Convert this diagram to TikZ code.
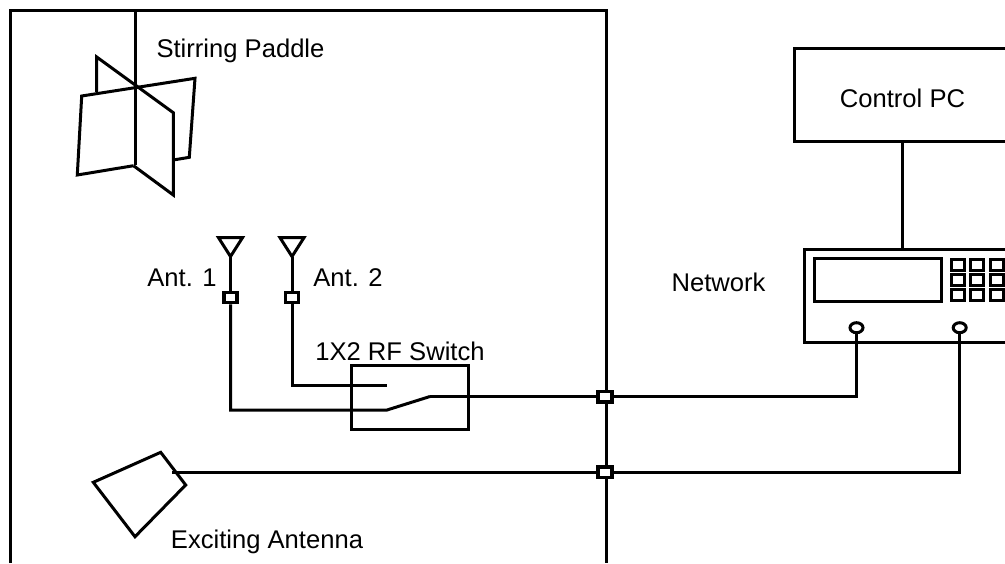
\documentclass[tikz,border=0pt]{standalone}
\usepackage{fontspec}
\setmainfont{Liberation Sans}
\usetikzlibrary{positioning,shapes.geometric}
\tikzset{
  wire/.style={line width=3pt, line join=miter},
  box/.style={draw, line width=3pt, rectangle, anchor=north west, inner sep=0pt, outer sep=0pt},
  port/.style={draw, line width=3.5pt, fill=white, rectangle, inner sep=0pt, minimum width=13pt, minimum height=10pt},
  wallport/.style={port, minimum width=14pt, minimum height=10.5pt},
  jack/.style={draw, line width=3pt, fill=white, ellipse, inner sep=0pt, minimum width=13pt, minimum height=10pt},
  keybox/.style={draw, line width=3pt, rectangle, inner sep=0pt, minimum width=13pt, minimum height=11.5pt},
  aerial/.style={draw, line width=3pt, isosceles triangle, shape border rotate=-90, isosceles triangle apex angle=65, inner sep=0pt, outer sep=0pt, minimum height=18pt, minimum width=24pt, anchor=apex},
  label/.style={font=\fontsize{25.6}{28}\selectfont, inner sep=0pt}
}
\begin{document}
\begin{tikzpicture}[x=1pt, y=-1pt]
\useasboundingbox (0,0) rectangle (1005,563);
\draw[wire] (10,563) -- (10,10) -- (606.5,10) -- (606.5,563);
% paddle
\draw[wire] (135.5,10) -- (135.5,165);
\draw[wire] (96.7,92) -- (96.7,57) -- (173.3,112.7) -- (173.3,195) -- (133.5,165.7);
\draw[wire] (173.3,160) -- (189.3,157.3) -- (195,78.3) -- (81.7,96) -- (77.3,175) -- (133.5,165.7);
\node[label] (paddle) at (240.5,51) {Stirring Paddle};
% antennas and switch
\node[aerial] (ant1) at (230.5,256.5) {};
\node[aerial] (ant2) at (292,256.5) {};
\node[port] (port1) at (230.5,297.5) {};
\node[port] (port2) at (292,297.5) {};
\node[label] (ant1text) at (182,278) {Ant. 1};
\node[label] (ant2text) at (348,278) {Ant. 2};
\node[box, minimum width=116.5pt, minimum height=64pt] (switch) at (351.7,365) {};
\node[label] (switchtext) at (400,351.5) {1X2 RF Switch};
\coordinate (contact1) at (387,385.7);
\coordinate (contact2) at (387,410);
\coordinate (contact3) at (430,396.5);
\draw[wire] (ant1.apex) -- (port1);
\draw[wire] (ant2.apex) -- (port2);
\draw[wire] (port1) |- (contact2) -- (contact3);
\draw[wire] (port2) |- (contact1);
% wall ports
\node[box, minimum width=216pt, minimum height=93pt] (pc) at (794,48) {};
\node[label] (pctext) at (902.5,98.5) {Control PC};
\node[box, minimum width=206pt, minimum height=93pt] (analyzer) at (804,249.5) {};
\node[box, minimum width=127pt, minimum height=43pt] (screen) at (814.5,258.5) {};
\node[label] (analyzertext) at (718.5,282.5) {Network};
\foreach \col/\xx in {1/957.5,2/977,3/996.5}
  \foreach \row/\yy in {1/265,2/280,3/295}
    \node[keybox] (key\col\row) at (\xx,\yy) {};
\node[jack] (jack1) at (856.5,327.7) {};
\node[jack] (jack2) at (959.7,327.7) {};
\node[wallport] (wall1) at (605,396.5) {};
\node[wallport] (wall2) at (605,472) {};
\coordinate (horntip) at (172.3,472);
\draw[wire] (pc.south -| pctext) -- (analyzer.north -| pctext);
\draw[wire] (contact3) -- (wall1);
\draw[wire] (wall1) -| (jack1);
\draw[wire] (horntip) -- (wall2);
\draw[wire] (wall2) -| (jack2);
% exciting antenna
\draw[wire] (160.7,452.3) -- (93.3,482.3) -- (135,536.7) -- (185.7,485) -- cycle;
\node[label] (horntext) at (267,541.5) {Exciting Antenna};
\end{tikzpicture}
\end{document}
